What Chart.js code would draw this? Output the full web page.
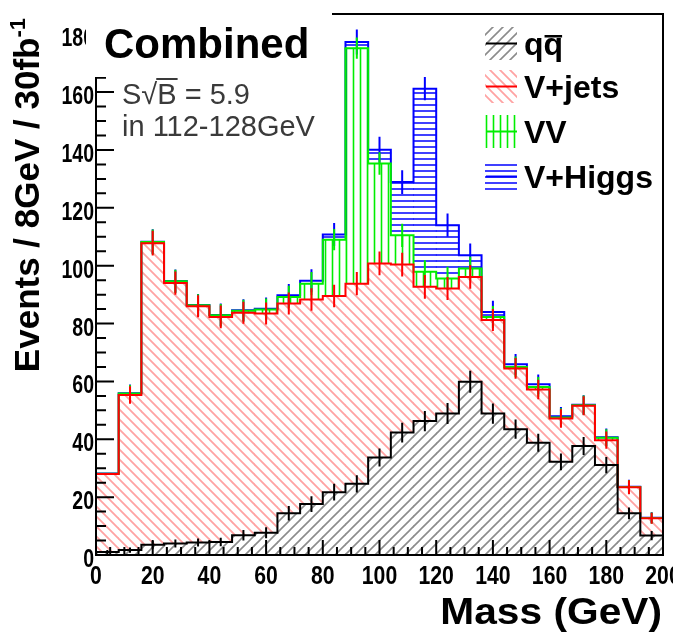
<!DOCTYPE html>
<html lang="en">
<head>
    <meta charset="UTF-8">
    <title>Combined - Mass (GeV)</title>
    <script src="https://cdn.jsdelivr.net/npm/chart.js"></script>
    <style>
        body { margin: 0; background: #fff; }
        canvas { display: block; }
    </style>
</head>
<body>
    <canvas id="grafico" width="673" height="633"></canvas>
    <script>
        // bin centres in GeV, 8 GeV wide bins from 0 to 200
        const centros = [4, 12, 20, 28, 36, 44, 52, 60, 68, 76, 84, 92, 100, 108, 116, 124, 132, 140, 148, 156, 164, 172, 180, 188, 196];
        const anchoBin = 8;

        // events per bin for each process (stacked in this order)
        const qq     = [1.0, 1.7, 3.5, 4.0, 4.3, 4.5, 6.8, 7.7, 14.4, 17.6, 21.7, 24.6, 33.7, 42.3, 46.3, 48.9, 59.9, 48.9, 43.5, 38.8, 32.2, 37.7, 31.1, 14.4, 6.7];
        const vJets  = [27.0, 53.6, 104.3, 90.0, 81.7, 77.8, 76.9, 75.8, 72.5, 70.7, 67.8, 69.2, 67.1, 58.1, 46.4, 43.2, 36.2, 32.3, 21.0, 18.4, 15.0, 13.9, 8.6, 9.0, 6.0];
        const vv     = [0.1, 0.5, 0.4, 0.6, 0.3, 0.6, 0.7, 1.4, 2.3, 5.5, 19.5, 81.4, 34.5, 10.1, 5.2, 3.5, 2.9, 1.1, 0.5, 0.9, 0.3, 0.2, 0.8, 0.1, 0.1];
        const vHiggs = [0.1, 0.1, 0.1, 0.1, 0.1, 0.1, 0.2, 0.2, 0.6, 1.0, 1.8, 2.1, 4.8, 18.4, 63.3, 18.4, 4.6, 1.7, 0.9, 0.9, 0.5, 0.1, 0.2, 0.1, 0.1];

        // half length of the error bars drawn on top of each stacked layer
        const errQq     = [0.7, 0.9, 1.3, 1.4, 1.4, 1.5, 1.8, 1.9, 2.5, 2.7, 2.9, 3.0, 3.1, 3.4, 3.5, 3.6, 3.8, 3.5, 3.3, 3.1, 2.9, 3.1, 2.8, 2.0, 1.6];
        const errVJets  = [0, 3.0, 4.3, 4.0, 3.8, 3.9, 3.8, 3.8, 3.8, 3.9, 3.9, 4.0, 4.1, 4.1, 4.1, 4.0, 4.1, 3.8, 3.6, 3.4, 3.2, 3.3, 3.0, 2.4, 1.9];
        const errVV     = [0, 3.0, 4.3, 4.0, 3.8, 3.9, 3.8, 3.8, 3.9, 4.0, 3.7, 3.7, 3.9, 4.0, 4.0, 4.0, 4.1, 3.8, 3.6, 3.4, 3.2, 3.3, 3.0, 2.4, 1.9];
        const errVHiggs = [0, 3.0, 4.3, 4.0, 3.8, 3.9, 3.8, 3.9, 3.9, 4.0, 4.0, 4.3, 4.5, 4.1, 4.0, 4.0, 4.1, 3.9, 3.6, 3.4, 3.2, 3.3, 3.0, 2.4, 1.9];

        // axis labels
        const ticksX = [0, 20, 40, 60, 80, 100, 120, 140, 160, 180, 200];
        const etiquetasX = ['0', '20', '40', '60', '80', '100', '120', '140', '160', '180', '200'];
        const ticksY = [0, 20, 40, 60, 80, 100, 120, 140, 160, 180];
        const etiquetasY = ['0', '20', '40', '60', '80', '100', '120', '140', '160', '180'];

        const FUENTE = '"Liberation Sans", Arial, Helvetica, sans-serif';
        const canvas = document.getElementById('grafico');
        const ctx = canvas.getContext('2d');

        // hatch fill, repeated from the canvas origin so it runs on across bins
        function trama(tipo, color, paso, grosor) {
            const c = document.createElement('canvas');
            c.width = paso; c.height = paso;
            const g = c.getContext('2d');
            g.strokeStyle = color;
            g.lineWidth = grosor;
            g.beginPath();
            if (tipo === '/') {
                g.moveTo(0, paso); g.lineTo(paso, 0);
                g.moveTo(-paso / 2, paso / 2); g.lineTo(paso / 2, -paso / 2);
                g.moveTo(paso / 2, paso * 1.5); g.lineTo(paso * 1.5, paso / 2);
            } else if (tipo === '\\') {
                g.moveTo(0, 0); g.lineTo(paso, paso);
                g.moveTo(paso / 2, -paso / 2); g.lineTo(paso * 1.5, paso / 2);
                g.moveTo(-paso / 2, paso / 2); g.lineTo(paso / 2, paso * 1.5);
            } else if (tipo === '|') {
                g.moveTo(paso / 2, 0); g.lineTo(paso / 2, paso);
            } else {
                g.moveTo(0, paso / 2); g.lineTo(paso, paso / 2);
            }
            g.stroke();
            return ctx.createPattern(c, 'repeat');
        }

        const tramaQq = trama('/', '#8c8c8c', 10, 1.6);
        const tramaJets = trama('\\', '#ffa3a3', 10, 1.8);
        const tramaVV = trama('|', '#00ee00', 7, 1.6);
        const tramaHiggs = trama('-', '#0000ff', 6, 1.5);

        // running sums of the stack
        function sumar(base, capa) { return base.map((v, i) => v + capa[i]); }
        const topQq = qq.slice();
        const topJets = sumar(topQq, vJets);
        const topVV = sumar(topJets, vv);
        const topHiggs = sumar(topVV, vHiggs);

        function franja(bajo, alto) {
            return centros.map((c, i) => ({ x: c, y: [bajo ? bajo[i] : 0, alto[i]] }));
        }

        // histogram outline: each value holds from its low edge to the next one
        function escalon(tops) {
            const pts = centros.map((c, i) => ({ x: c - anchoBin / 2, y: tops[i] }));
            pts.push({ x: centros[centros.length - 1] + anchoBin / 2, y: tops[tops.length - 1] });
            return pts;
        }

        function barrasError(tops, errs) {
            const pts = [];
            centros.forEach((c, i) => {
                if (!errs[i]) return;
                pts.push({ x: c, y: tops[i] - errs[i] }, { x: c, y: tops[i] + errs[i] }, { x: c, y: null });
            });
            return pts;
        }

        function relleno(datos, patron, orden) {
            return {
                type: 'bar', data: datos, backgroundColor: patron, borderWidth: 0,
                grouped: false, barPercentage: 1, categoryPercentage: 1, order: orden
            };
        }
        function contorno(datos, color, orden) {
            return {
                type: 'line', data: datos, borderColor: color, borderWidth: 2,
                stepped: 'before', pointRadius: 0, fill: false, order: orden
            };
        }
        function errores(datos, color, orden) {
            return {
                type: 'line', data: datos, borderColor: color, borderWidth: 2,
                pointRadius: 0, fill: false, spanGaps: false, order: orden
            };
        }

        const leyenda = [
            { texto: 'qq', patron: tramaQq, color: '#000', y: 27 },
            { texto: 'V+jets', patron: tramaJets, color: '#ff0000', y: 70 },
            { texto: 'VV', patron: tramaVV, color: '#00ee00', y: 115 },
            { texto: 'V+Higgs', patron: tramaHiggs, color: '#0000ff', y: 160 }
        ];

        // frame, inward ticks, labels, titles, legend and captions
        const marco = {
            id: 'marco',
            afterDatasetsDraw(chart) {
                const { ctx: c, chartArea: a, scales: { x, y } } = chart;
                c.save();
                c.strokeStyle = '#000';
                c.lineWidth = 2;
                c.strokeRect(a.left, a.top, a.right - a.left, a.bottom - a.top);

                c.beginPath();
                for (let v = 0; v <= 200; v += 5) {
                    const px = x.getPixelForValue(v);
                    const largo = v % 20 === 0 ? 15 : 8;
                    c.moveTo(px, a.bottom); c.lineTo(px, a.bottom - largo);
                }
                for (let v = 0; v <= 185; v += 5) {
                    const py = y.getPixelForValue(v);
                    const largo = v % 20 === 0 ? 18 : 10;
                    c.moveTo(a.left, py); c.lineTo(a.left + largo, py);
                }
                c.stroke();

                c.fillStyle = '#000';
                c.font = 'bold 25px ' + FUENTE;
                c.textAlign = 'center';
                ticksX.forEach((v, i) => {
                    c.save();
                    c.translate(x.getPixelForValue(v), 584);
                    c.scale(0.85, 1);
                    c.fillText(etiquetasX[i], 0, 0);
                    c.restore();
                });
                c.font = 'bold 26px ' + FUENTE;
                c.textAlign = 'right';
                ticksY.forEach((v, i) => {
                    c.save();
                    c.translate(a.left - 2, y.getPixelForValue(v) + 12);
                    c.scale(0.75, 1);
                    c.fillText(etiquetasY[i], 0, 0);
                    c.restore();
                });

                // axis titles
                c.save();
                c.translate(662, 624);
                c.scale(1.1, 1);
                c.font = 'bold 37px ' + FUENTE;
                c.textAlign = 'right';
                c.fillText('Mass (GeV)', 0, 0);
                c.restore();

                c.save();
                c.translate(39, 18);
                c.rotate(-Math.PI / 2);
                c.textAlign = 'right';
                c.font = 'bold 22px ' + FUENTE;
                const wSup = c.measureText('-1').width;
                c.fillText('-1', 0, -14);
                c.font = 'bold 35px ' + FUENTE;
                c.fillText('Events / 8GeV / 30fb', -wSup, 0);
                c.restore();

                // label box in the top left corner
                c.fillStyle = '#fff';
                c.fillRect(86, 0, 246, 77);
                c.fillStyle = '#000';
                c.textAlign = 'left';
                c.font = 'bold 42px ' + FUENTE;
                c.fillText('Combined', 104, 58);

                // significance caption
                c.fillStyle = '#3a3a3a';
                c.font = '29px ' + FUENTE;
                let cx = 122;
                c.fillText('S', cx, 104);
                cx += c.measureText('S').width;
                c.fillText('\u221A', cx, 104);
                cx += c.measureText('\u221A').width;
                const wB = c.measureText('B').width;
                c.fillText('B', cx, 104);
                c.fillRect(cx - 1, 78, wB + 2, 2);
                cx += wB;
                c.fillText(' = 5.9', cx, 104);
                c.fillText('in 112-128GeV', 122, 136);

                // legend
                c.font = 'bold 32px ' + FUENTE;
                leyenda.forEach(e => {
                    c.fillStyle = e.patron;
                    c.fillRect(485, e.y, 32, 33);
                    c.strokeStyle = e.color;
                    c.lineWidth = 2;
                    c.beginPath();
                    c.moveTo(486, e.y + 16.5); c.lineTo(517, e.y + 16.5);
                    c.stroke();
                    c.fillStyle = '#000';
                    c.fillText(e.texto, 524, e.y + 28);
                });
                const wq = c.measureText('q').width;
                c.fillRect(524 + wq + 1, 35, wq - 2, 2.5);

                c.restore();
            }
        };

        new Chart(ctx, {
            type: 'bar',
            data: {
                datasets: [
                    relleno(franja(topVV, topHiggs), tramaHiggs, 20),
                    relleno(franja(topJets, topVV), tramaVV, 19),
                    relleno(franja(topQq, topJets), tramaJets, 18),
                    relleno(franja(null, topQq), tramaQq, 17),
                    contorno(escalon(topHiggs), '#0000ff', 9),
                    errores(barrasError(topHiggs, errVHiggs), '#0000ff', 8),
                    contorno(escalon(topVV), '#00ee00', 7),
                    errores(barrasError(topVV, errVV), '#00ee00', 6),
                    contorno(escalon(topJets), '#ff0000', 5),
                    errores(barrasError(topJets, errVJets), '#ff0000', 4),
                    contorno(escalon(topQq), '#000000', 3),
                    errores(barrasError(topQq, errQq), '#000000', 2)
                ]
            },
            options: {
                responsive: false,
                animation: false,
                layout: { padding: { left: 96, right: 10, top: 14, bottom: 78 } },
                plugins: { legend: { display: false }, tooltip: { enabled: false } },
                scales: {
                    x: { type: 'linear', min: 0, max: 200, offset: false, display: false },
                    y: { min: 0, max: 187, display: false }
                }
            },
            plugins: [marco]
        });
    </script>
</body>
</html>
